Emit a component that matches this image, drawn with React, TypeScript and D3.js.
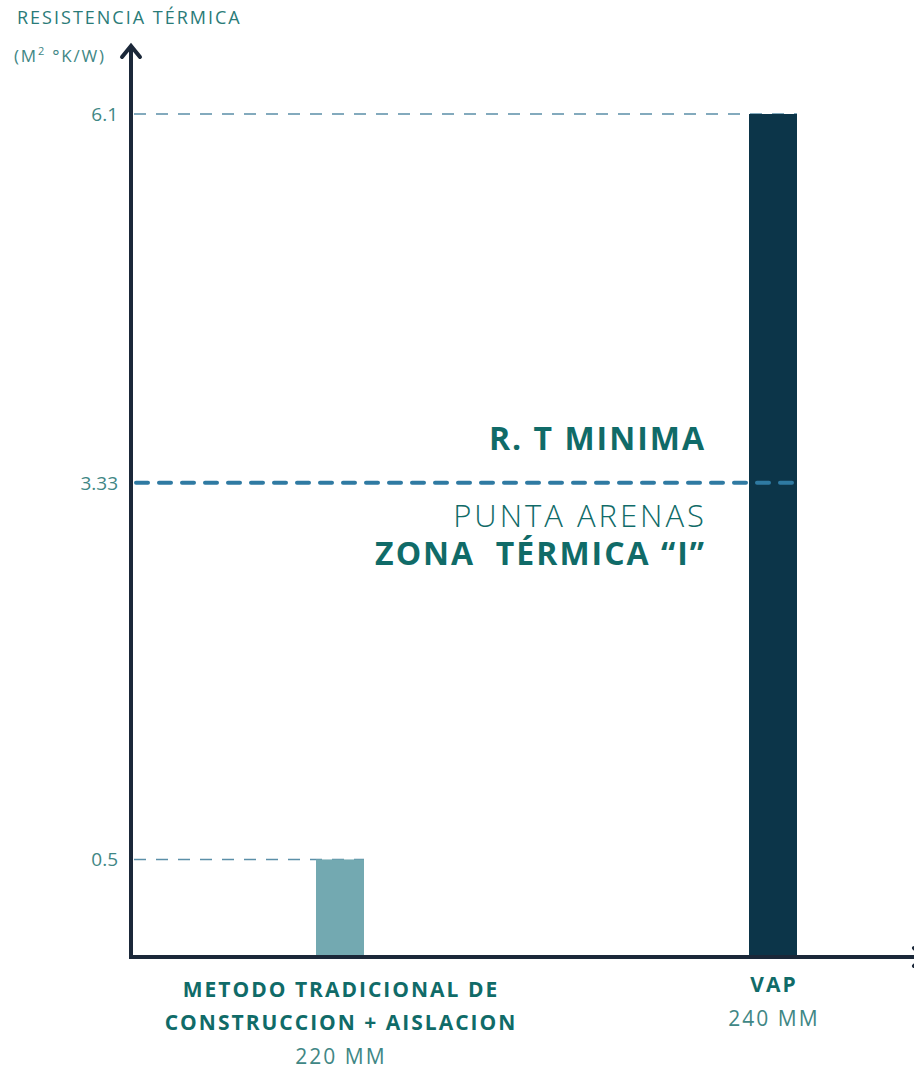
import React, { useEffect, useRef } from 'react';
import { select, scaleLinear, scalePoint } from 'd3';

const categories = ['METODO TRADICIONAL DE\nCONSTRUCCION + AISLACION', 'VAP'];
const subLabels = ['220 MM', '240 MM'];
const values = [0.5, 6.1];
const barColors = ['#73a9b1', '#0c3549'];
const tickValues = [0.5, 3.33, 6.1];
const minimum = 3.33;

const dims = {
  width: 914,
  height: 1068,
  axisX: 131,
  axisY: 957,
  barWidth: 48,
};

const teal = '#106b68';
const softTeal = '#3f8785';
const font = '"Open Sans", "Noto Sans", sans-serif';

const App: React.FC = () => {
  const svgRef = useRef<SVGSVGElement | null>(null);

  useEffect(() => {
    const svg = select(svgRef.current);
    svg.selectAll('*').remove();

    const y = scaleLinear().domain([0, 6.1]).range([926, 114]);
    const x = scalePoint<string>().domain(categories).range([340, 773]);

    // dashed reference lines for bar tops
    svg.append('g')
      .selectAll('line')
      .data(values)
      .enter()
      .append('line')
      .attr('x1', dims.axisX + 3)
      .attr('x2', (d, i) => x(categories[i])! + dims.barWidth / 2)
      .attr('y1', d => y(d))
      .attr('y2', d => y(d))
      .attr('stroke', '#5b8fa8')
      .attr('stroke-width', 1.6)
      .attr('stroke-dasharray', '12 10');

    // bars
    svg.append('g')
      .selectAll('rect')
      .data(values)
      .enter()
      .append('rect')
      .attr('x', (d, i) => x(categories[i])! - dims.barWidth / 2)
      .attr('width', dims.barWidth)
      .attr('y', d => y(d))
      .attr('height', d => dims.axisY - y(d))
      .attr('fill', (d, i) => barColors[i]);

    // minimum line
    svg.append('line')
      .attr('x1', dims.axisX + 5)
      .attr('x2', x(categories[1])! + dims.barWidth / 2 - 2)
      .attr('y1', y(minimum))
      .attr('y2', y(minimum))
      .attr('stroke', '#2f7aa2')
      .attr('stroke-width', 4)
      .attr('stroke-linecap', 'round')
      .attr('stroke-dasharray', '12 11');

    // axes
    const axis = svg.append('g').attr('stroke', '#1b2839').attr('stroke-width', 4).attr('fill', 'none');
    axis.append('path')
      .attr('d', `M${dims.axisX},46 V${dims.axisY} H${dims.width + 10}`);
    axis.append('path')
      .attr('d', `M${dims.axisX - 9},57 L${dims.axisX},46 L${dims.axisX + 9},57`)
      .attr('stroke-linecap', 'round');
    axis.append('path')
      .attr('d', `M${dims.width},${dims.axisY - 9} L${dims.width + 9},${dims.axisY} L${dims.width},${dims.axisY + 9}`)
      .attr('stroke-linecap', 'round');

    // tick labels
    svg.append('g')
      .selectAll('text')
      .data(tickValues)
      .enter()
      .append('text')
      .attr('x', 118)
      .attr('y', d => y(d))
      .attr('dy', '0.36em')
      .attr('text-anchor', 'end')
      .attr('fill', softTeal)
      .attr('font-family', font)
      .attr('font-size', 19)
      .text(d => String(d));

    // axis title
    svg.append('text')
      .attr('x', 17).attr('y', 24)
      .attr('fill', '#2a7b78')
      .attr('font-family', font)
      .attr('font-size', 18)
      .attr('letter-spacing', 2)
      .text('RESISTENCIA TÉRMICA');
    const unit = svg.append('text')
      .attr('x', 14).attr('y', 62)
      .attr('fill', softTeal)
      .attr('font-family', font)
      .attr('font-size', 17)
      .attr('letter-spacing', 1.8);
    unit.append('tspan').text('(M');
    unit.append('tspan').attr('font-size', 11).attr('dy', -7).text('2');
    unit.append('tspan').attr('dy', 7).text(' °K/W)');

    // annotation
    const note = svg.append('g')
      .attr('text-anchor', 'end')
      .attr('fill', teal)
      .attr('font-family', font);
    note.append('text').attr('x', 706).attr('y', 450)
      .attr('font-size', 32).attr('font-weight', 700).attr('letter-spacing', 2)
      .text('R. T MINIMA');
    note.append('text').attr('x', 707).attr('y', 527)
      .attr('font-size', 31).attr('font-weight', 300).attr('letter-spacing', 3)
      .text('PUNTA ARENAS');
    note.append('text').attr('x', 706).attr('y', 565)
      .attr('font-size', 32).attr('font-weight', 700).attr('letter-spacing', 2)
      .attr('xml:space', 'preserve')
      .text('ZONA  TÉRMICA “I”');

    // category labels
    const labels = svg.append('g')
      .attr('text-anchor', 'middle')
      .attr('fill', teal)
      .attr('font-family', font);
    categories.forEach((c, i) => {
      const lines = c.split('\n');
      const cx = x(c)! + 1;
      const startY = i === 0 ? 997 : 992;
      lines.forEach((l, j) => {
        labels.append('text')
          .attr('x', cx).attr('y', startY + j * 33)
          .attr('font-size', 21).attr('font-weight', 700)
          .attr('letter-spacing', 2)
          .text(l);
      });
      labels.append('text')
        .attr('x', cx).attr('y', startY + lines.length * 33 + 1)
        .attr('font-size', 21).attr('fill', softTeal)
        .attr('letter-spacing', 2)
        .text(subLabels[i]);
    });
  }, []);

  return (
    <div style={{ position: 'absolute', left: 0, top: 0 }}>
      <svg ref={svgRef} width={dims.width} height={dims.height} style={{ display: 'block' }} />
    </div>
  );
};

export default App;
